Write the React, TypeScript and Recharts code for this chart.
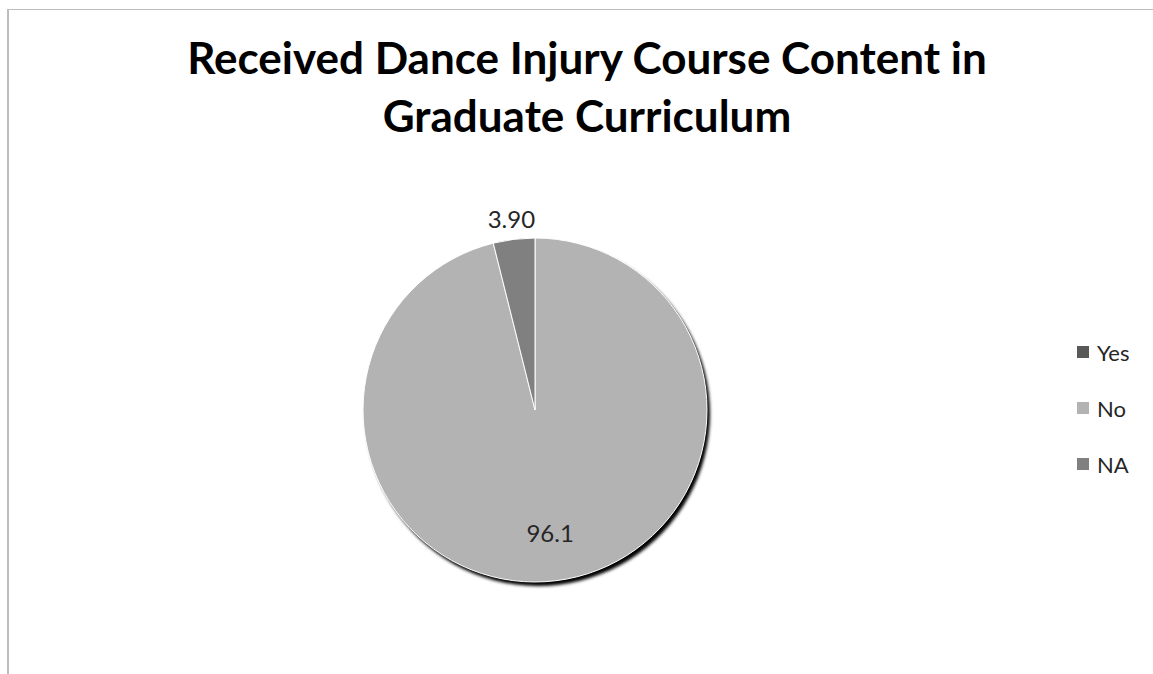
import { PieChart, Pie, Cell, Legend } from "recharts";

const categories = ["Yes", "No", "NA"];
const shares = [0, 96.1, 3.9];
const shareLabels = ["0", "96.1", "3.90"];
const sliceColors = ["#595959", "#b3b3b3", "#808080"];
const titleLines = ["Received Dance Injury Course Content in", "Graduate Curriculum"];

const chartData = categories.map((name, i) => ({
  name,
  value: shares[i],
  label: shareLabels[i],
}));

const FONT = "Lato, 'Open Sans', sans-serif";
const RAD = Math.PI / 180;

// small slices get their label outside, the big one inside
function renderLabel(props: any) {
  const { cx, cy, midAngle, outerRadius, value, index } = props;
  if (!value) return null;
  const r = value < 10 ? outerRadius + 21 : outerRadius * 0.72;
  const x = cx + r * Math.cos(-midAngle * RAD);
  const y = cy + r * Math.sin(-midAngle * RAD);
  return (
    <text
      x={x}
      y={y}
      textAnchor="middle"
      dominantBaseline="central"
      fontFamily={FONT}
      fontSize={24}
      fill="#262626"
    >
      {chartData[index].label}
    </text>
  );
}

function LegendBox({ payload }: any) {
  const items = (payload || [])
    .filter((entry: any) => entry.type !== "none" && entry.color !== "#000000")
    .sort(
      (a: any, b: any) => categories.indexOf(a.value) - categories.indexOf(b.value),
    );
  return (
    <div>
      {items.map((entry: any) => (
        <div
          key={entry.value}
          style={{ display: "flex", alignItems: "center", height: 56 }}
        >
          <span
            style={{
              display: "inline-block",
              width: 12,
              height: 12,
              background: entry.color,
              marginRight: 8,
            }}
          />
          <span style={{ fontFamily: FONT, fontSize: 22, color: "#262626" }}>
            {entry.value}
          </span>
        </div>
      ))}
    </div>
  );
}

export default function App() {
  return (
    <div
      style={{
        position: "absolute",
        left: 0,
        top: 0,
        width: 1153,
        height: 674,
        overflow: "hidden",
        background: "#ffffff",
      }}
    >
      <style>{".pie-shadow{filter:url(#pieBlur)}"}</style>
      <svg width={0} height={0} style={{ position: "absolute" }}>
        <defs>
          <filter id="pieBlur" x="-10%" y="-10%" width="120%" height="120%">
            <feGaussianBlur stdDeviation="1.3" />
          </filter>
        </defs>
      </svg>
      <div
        style={{
          position: "absolute",
          left: 7,
          top: 9,
          width: 1146,
          height: 665,
          boxSizing: "border-box",
          borderLeft: "2px solid #bdbdbd",
          borderTop: "1px solid #bdbdbd",
        }}
      />
      <div style={{ position: "absolute", left: 0, top: 0 }}>
        <PieChart
          width={1153}
          height={674}
          margin={{ top: 0, right: 0, bottom: 0, left: 0 }}
        >
          <Pie
            data={chartData}
            dataKey="value"
            nameKey="name"
            cx={538}
            cy={414}
            outerRadius={172}
            startAngle={90}
            endAngle={-270}
            fill="#000000"
            stroke="none"
            legendType="none"
            className="pie-shadow"
            isAnimationActive={false}
          />
          <Pie
            data={chartData}
            dataKey="value"
            nameKey="name"
            cx={535}
            cy={410}
            outerRadius={172}
            startAngle={90}
            endAngle={-270}
            stroke="#ffffff"
            strokeWidth={1}
            labelLine={false}
            label={renderLabel}
            isAnimationActive={false}
          >
            {chartData.map((d, i) => (
              <Cell key={d.name} fill={sliceColors[i]} />
            ))}
          </Pie>
          <Legend
            layout="vertical"
            content={<LegendBox />}
            wrapperStyle={{ left: 1077, top: 324, width: 76 }}
          />
        </PieChart>
      </div>
      <svg
        width={1153}
        height={180}
        style={{ position: "absolute", left: 0, top: 0, pointerEvents: "none" }}
      >
        {titleLines.map((line, i) => (
          <text
            key={line}
            x={587}
            y={74 + i * 58}
            textAnchor="middle"
            fontFamily={FONT}
            fontWeight="bold"
            fontSize={44}
            fill="#000000"
          >
            {line}
          </text>
        ))}
      </svg>
    </div>
  );
}
